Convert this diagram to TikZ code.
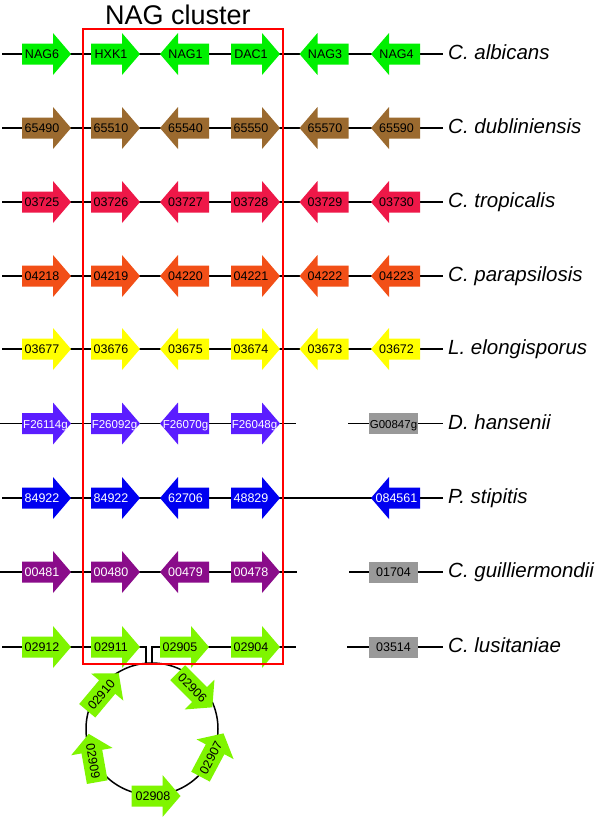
\documentclass[tikz,border=0pt]{standalone}
\usepackage{fontspec}
\setmainfont{Liberation Sans}
\definecolor{cAlb}{HTML}{00F000}
\definecolor{cDub}{HTML}{9B6A2F}
\definecolor{cTro}{HTML}{EE1848}
\definecolor{cPar}{HTML}{F24F17}
\definecolor{cElo}{HTML}{FFFF00}
\definecolor{cHan}{HTML}{5B1DFF}
\definecolor{cSti}{HTML}{0000F0}
\definecolor{cGui}{HTML}{8A0C8A}
\definecolor{cLus}{HTML}{7FF500}
\definecolor{cGray}{HTML}{999999}
\tikzset{
  glabel/.style={inner sep=0pt, font=\fontsize{12.5}{12.5}\selectfont, text height=9.5pt, text depth=0pt},
  glabelsm/.style={glabel, font=\fontsize{11.5}{11.5}\selectfont},
  graybox/.style={fill=cGray, minimum width=49pt, minimum height=21pt, inner sep=0pt, text height=9.5pt, text depth=0pt},
  species/.style={anchor=base west, inner sep=0pt, font=\fontsize{20.5}{20.5}\selectfont\itshape},
  rowline/.style={line width=1.5pt, black},
  cluster/.style={draw=red, line width=2pt},
  circline/.style={line width=1.5pt, black},
}
% #1 name, #2 position, #3 direction, #4 label shift, #5 fill, #6 label style, #7 text
\newcommand\gene[7]{%
  \begin{scope}[shift={#2}, rotate=#3]
    \fill[#5] (-24.5,-10.5) -- (6.5,-10.5) -- (6.5,-21) -- (24.5,0) -- (6.5,21) -- (6.5,10.5) -- (-24.5,10.5) -- cycle;
    \node[#6] (#1) at (#4,0) {#7};
  \end{scope}}
% circle genes: #1 name, #2 position, #3 direction, #4 text rotation, #5 text
\newcommand\cgene[5]{%
  \begin{scope}[shift={#2}, rotate=#3]
    \fill[cLus] (-24.5,-10.5) -- (6.5,-10.5) -- (6.5,-21) -- (24.5,0) -- (6.5,21) -- (6.5,10.5) -- (-24.5,10.5) -- cycle;
    \node[glabel, rotate=#4] (#1) at (-3,0) {#5};
  \end{scope}}
\begin{document}
\begin{tikzpicture}[x=1pt, y=-1pt]
\fill[white] (0,0) rectangle (600,817);
\useasboundingbox (0,0) rectangle (600,817);

% row end coordinates
\coordinate (r1s) at (2,54);     \coordinate (r1e) at (443,54);
\coordinate (r2s) at (2,128);    \coordinate (r2e) at (443,128);
\coordinate (r3s) at (2,202);    \coordinate (r3e) at (443,202);
\coordinate (r4s) at (2,276);    \coordinate (r4e) at (443,276);
\coordinate (r5s) at (2,349);    \coordinate (r5e) at (443,349);
\coordinate (r6s) at (0,423.5);  \coordinate (r6m) at (296,423.5);
\coordinate (r6n) at (348,423.5);\coordinate (r6e) at (443,423.5);
\coordinate (r7s) at (2,498);    \coordinate (r7e) at (443,498);
\coordinate (r8s) at (0,572);    \coordinate (r8m) at (297,572);
\coordinate (r8n) at (349,572);  \coordinate (r8e) at (443,572);
\coordinate (r9s) at (2,647);    \coordinate (r9a) at (146,647);
\coordinate (r9b) at (146,663);  \coordinate (r9c) at (152,663);
\coordinate (r9d) at (152,647);  \coordinate (r9m) at (296,647);
\coordinate (r9n) at (347,647);  \coordinate (r9e) at (443,647);
\coordinate (cc) at (152,729);

\draw[rowline] (r1s) -- (r1e);
\draw[rowline] (r2s) -- (r2e);
\draw[rowline] (r3s) -- (r3e);
\draw[rowline] (r4s) -- (r4e);
\draw[rowline] (r5s) -- (r5e);
\draw[rowline] (r6s) -- (r6m);
\draw[rowline] (r6n) -- (r6e);
\draw[rowline] (r7s) -- (r7e);
\draw[rowline] (r8s) -- (r8m);
\draw[rowline] (r8n) -- (r8e);
\draw[rowline] (r9s) -- (r9a) -- (r9b);
\draw[rowline] (r9c) -- (r9d) -- (r9m);
\draw[rowline] (r9n) -- (r9e);
\draw[circline] (cc) circle (66);

% Row 1: C. albicans
\gene{a1}{(46.5,54)}{0}{-4.5}{cAlb}{glabel}{NAG6}
\gene{a2}{(115.5,54)}{0}{-4.5}{cAlb}{glabel}{HXK1}
\gene{a3}{(184.5,54)}{180}{-1}{cAlb}{glabel}{NAG1}
\gene{a4}{(255.5,54)}{0}{-4.5}{cAlb}{glabel}{DAC1}
\gene{a5}{(324,54)}{180}{-1}{cAlb}{glabel}{NAG3}
\gene{a6}{(395.5,54)}{180}{-1}{cAlb}{glabel}{NAG4}
% Row 2: C. dubliniensis
\gene{b1}{(46.5,128)}{0}{-4.5}{cDub}{glabel}{65490}
\gene{b2}{(115.5,128)}{0}{-4.5}{cDub}{glabel}{65510}
\gene{b3}{(184.5,128)}{180}{-1}{cDub}{glabel}{65540}
\gene{b4}{(255.5,128)}{0}{-4.5}{cDub}{glabel}{65550}
\gene{b5}{(324,128)}{180}{-1}{cDub}{glabel}{65570}
\gene{b6}{(395.5,128)}{180}{-1}{cDub}{glabel}{65590}
% Row 3: C. tropicalis
\gene{c1}{(46.5,202)}{0}{-4.5}{cTro}{glabel}{03725}
\gene{c2}{(115.5,202)}{0}{-4.5}{cTro}{glabel}{03726}
\gene{c3}{(184.5,202)}{180}{-1}{cTro}{glabel}{03727}
\gene{c4}{(255.5,202)}{0}{-4.5}{cTro}{glabel}{03728}
\gene{c5}{(324,202)}{180}{-1}{cTro}{glabel}{03729}
\gene{c6}{(395.5,202)}{180}{-1}{cTro}{glabel}{03730}
% Row 4: C. parapsilosis
\gene{d1}{(46.5,276)}{0}{-4.5}{cPar}{glabel}{04218}
\gene{d2}{(115.5,276)}{0}{-4.5}{cPar}{glabel}{04219}
\gene{d3}{(184.5,276)}{180}{-1}{cPar}{glabel}{04220}
\gene{d4}{(255.5,276)}{0}{-4.5}{cPar}{glabel}{04221}
\gene{d5}{(324,276)}{180}{-1}{cPar}{glabel}{04222}
\gene{d6}{(395.5,276)}{180}{-1}{cPar}{glabel}{04223}
% Row 5: L. elongisporus
\gene{e1}{(46.5,349)}{0}{-4.5}{cElo}{glabel}{03677}
\gene{e2}{(115.5,349)}{0}{-4.5}{cElo}{glabel}{03676}
\gene{e3}{(184.5,349)}{180}{-1}{cElo}{glabel}{03675}
\gene{e4}{(255.5,349)}{0}{-4.5}{cElo}{glabel}{03674}
\gene{e5}{(324,349)}{180}{-1}{cElo}{glabel}{03673}
\gene{e6}{(395.5,349)}{180}{-1}{cElo}{glabel}{03672}
% Row 6: D. hansenii
\gene{f1}{(46.5,423.5)}{0}{-1}{cHan}{glabelsm, text=white}{F26114g}
\gene{f2}{(115.5,423.5)}{0}{-1}{cHan}{glabelsm, text=white}{F26092g}
\gene{f3}{(184.5,423.5)}{180}{-1}{cHan}{glabelsm, text=white}{F26070g}
\gene{f4}{(255.5,423.5)}{0}{-1}{cHan}{glabelsm, text=white}{F26048g}
\node[graybox, font=\fontsize{11.5}{11.5}\selectfont] (f6) at (393.5,423.5) {G00847g};
% Row 7: P. stipitis
\gene{g1}{(46.5,498)}{0}{-4.5}{cSti}{glabel, text=white}{84922}
\gene{g2}{(115.5,498)}{0}{-4.5}{cSti}{glabel, text=white}{84922}
\gene{g3}{(184.5,498)}{180}{-1}{cSti}{glabel, text=white}{62706}
\gene{g4}{(255.5,498)}{0}{-4.5}{cSti}{glabel, text=white}{48829}
\gene{g6}{(395.5,498)}{180}{-1}{cSti}{glabel, text=white}{084561}
% Row 8: C. guilliermondii
\gene{h1}{(46.5,572)}{0}{-4.5}{cGui}{glabel, text=white}{00481}
\gene{h2}{(115.5,572)}{0}{-4.5}{cGui}{glabel, text=white}{00480}
\gene{h3}{(184.5,572)}{180}{-1}{cGui}{glabel, text=white}{00479}
\gene{h4}{(255.5,572)}{0}{-4.5}{cGui}{glabel, text=white}{00478}
\node[graybox, font=\fontsize{12.5}{12.5}\selectfont] (h6) at (393.5,572) {01704};
% Row 9: C. lusitaniae
\gene{i1}{(46.5,647)}{0}{-4.5}{cLus}{glabel}{02912}
\gene{i2}{(115.5,647)}{0}{-4.5}{cLus}{glabel}{02911}
\gene{i3}{(184.5,647)}{0}{-4.5}{cLus}{glabel}{02905}
\gene{i4}{(255.5,647)}{0}{-4.5}{cLus}{glabel}{02904}
\node[graybox, font=\fontsize{12.5}{12.5}\selectfont] (i6) at (393.5,647) {03514};
% circle genes
\cgene{k10}{(103,692)}{50}{50}{02910}
\cgene{k6}{(195,690)}{-45}{-45}{02906}
\cgene{k7}{(212,755)}{62}{62}{02907}
\cgene{k8}{(156,796)}{0}{0}{02908}
\cgene{k9}{(93,758)}{100}{-80}{02909}

% NAG cluster box
\node[anchor=base, inner sep=0pt, font=\fontsize{27}{27}\selectfont] (title) at (178,24) {NAG cluster};
\coordinate (bx1) at (83,29);
\coordinate (bx2) at (283,664);
\draw[cluster] (bx1) rectangle (bx2);

% species labels
\node[species] (s1) at (448,59.5) {C. albicans};
\node[species] (s2) at (448,133.5) {C. dubliniensis};
\node[species] (s3) at (448,207.5) {C. tropicalis};
\node[species] (s4) at (448,281.5) {C. parapsilosis};
\node[species] (s5) at (448,354.5) {L. elongisporus};
\node[species] (s6) at (448,429) {D. hansenii};
\node[species] (s7) at (448,503.5) {P. stipitis};
\node[species] (s8) at (448,577.5) {C. guilliermondii};
\node[species] (s9) at (448,652.5) {C. lusitaniae};
\end{tikzpicture}
\end{document}
